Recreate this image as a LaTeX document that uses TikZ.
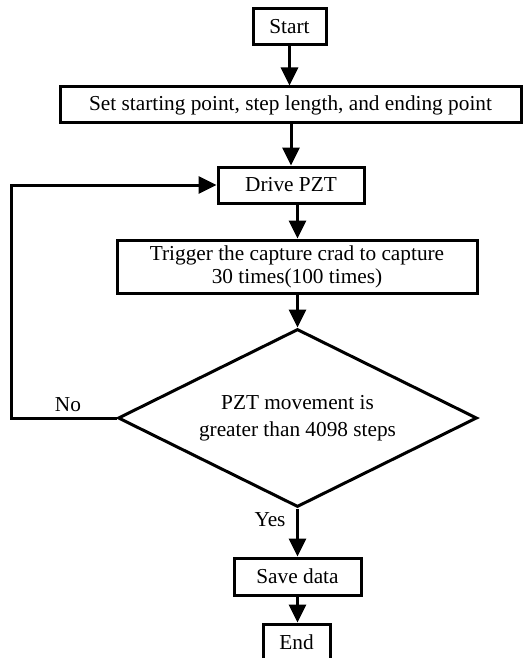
\documentclass[tikz,border=0pt]{standalone}
\usepackage{fontspec}
\setmainfont{Liberation Serif}
\usetikzlibrary{shapes.geometric,arrows.meta,calc}
\begin{document}
\begin{tikzpicture}[x=1pt,y=-1pt,
  font=\fontsize{21.3}{23}\selectfont,
  box/.style={draw,line width=3pt,inner sep=0pt,align=center},
  arr/.style={line width=3pt,-{Triangle[length=18pt,width=17pt]}},
  lbl/.style={inner sep=0pt}]
\useasboundingbox (0,0) rectangle (523,658);
\clip (0,0) rectangle (523,658);
% process boxes
\node[box,minimum width=73pt,minimum height=36pt] (start) at (289.5,27) {Start};
\node[box,minimum width=461pt,minimum height=36pt] (set) at (290.5,105) {Set starting point, step length, and ending point};
\node[box,minimum width=146pt,minimum height=36pt] (drive) at (291,185) {Drive PZT};
\node[box,minimum width=360pt,minimum height=53pt] (trig) at (297,266.5) {Trigger the capture crad to capture\\30 times(100 times)};
% decision
\node[draw,line width=3pt,diamond,shape aspect=2,inner sep=0pt,
      minimum width=359pt,minimum height=178pt,align=center] (dia) at (297.5,418)
      {PZT movement is\\[4pt]greater than 4098 steps};
\node[box,minimum width=127pt,minimum height=37pt] (save) at (297.5,576.5) {Save data};
\node[box,minimum width=67pt,minimum height=36pt] (end) at (296.5,642) {End};
% connectors
\draw[arr] (start.south) -- (start.south |- set.north);
\draw[arr] (drive |- set.south) -- (drive.north);
\draw[arr] (dia |- drive.south) -- (dia |- trig.north);
\draw[arr] (dia |- trig.south) -- (dia.north);
\draw[arr] (dia.south) -- (dia |- save.north);
\draw[arr] (save.south) -- (save.south |- end.north);
% loop back when the limit is not reached
\draw[arr] (dia.west) -- ++(-105,0) |- (drive.west);
% branch labels
\node[lbl] (no) at (68,405) {No};
\node[lbl] (yes) at (270,520) {Yes};
\end{tikzpicture}
\end{document}
